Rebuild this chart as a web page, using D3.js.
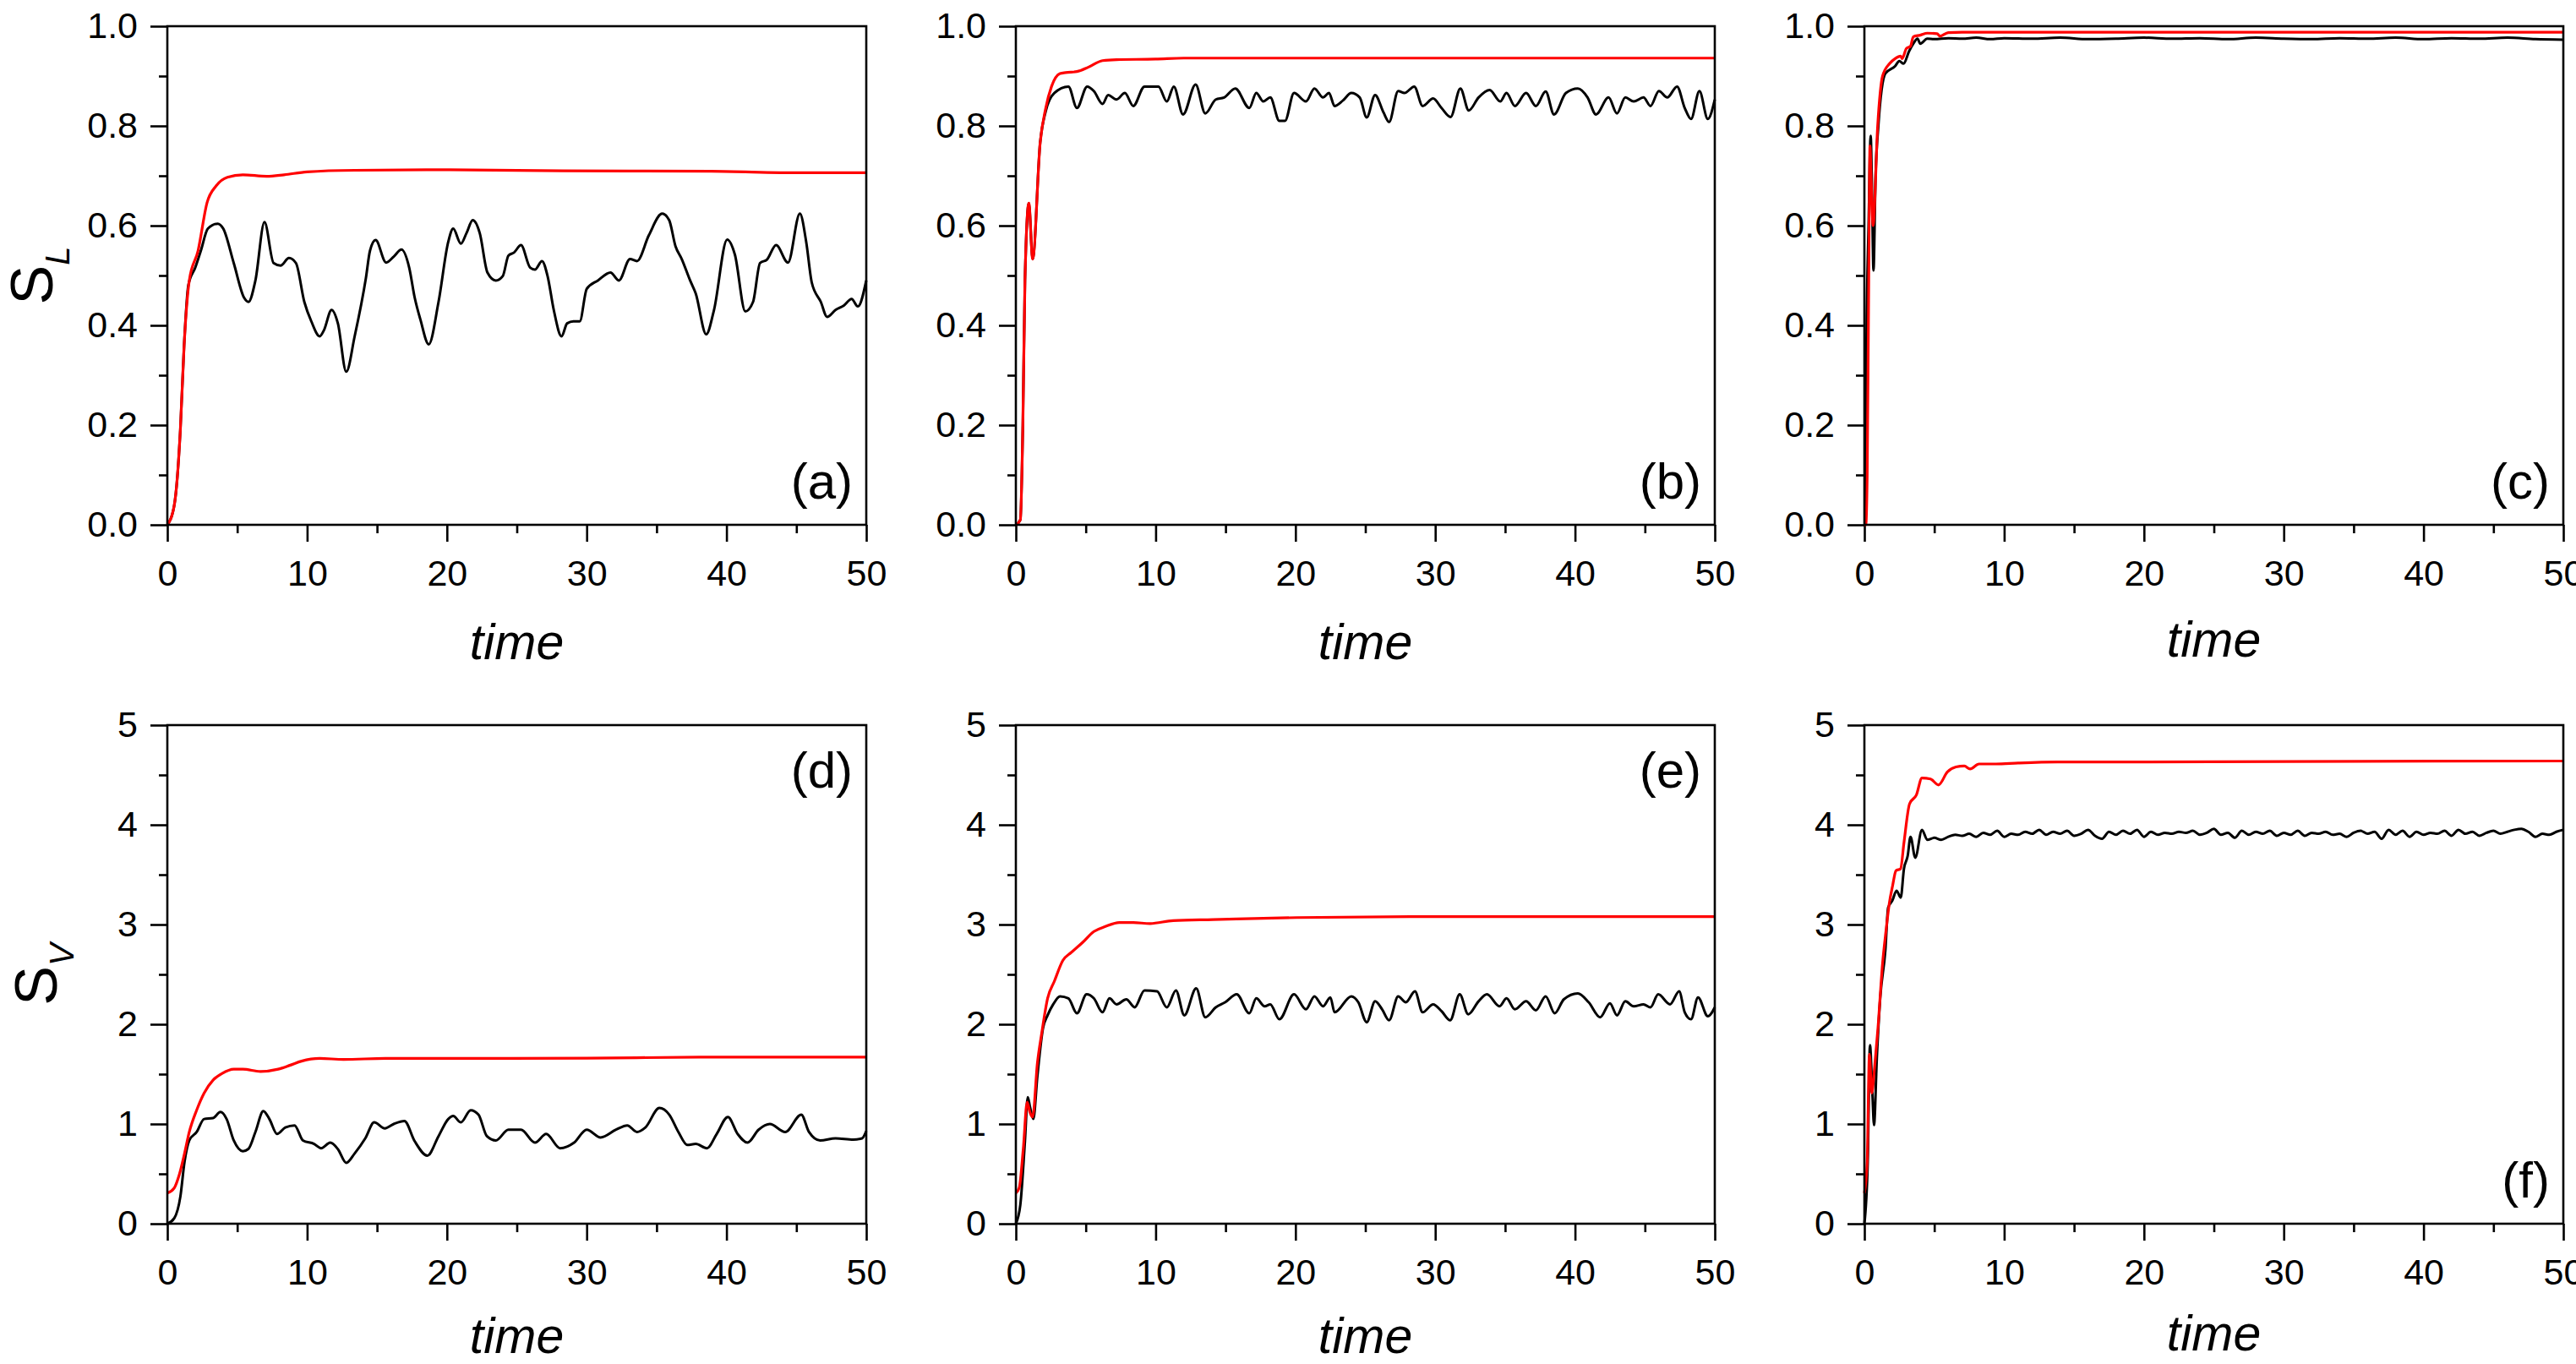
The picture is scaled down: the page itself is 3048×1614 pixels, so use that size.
<!DOCTYPE html>
<html>
<head>
<meta charset="utf-8">
<script src="https://cdn.jsdelivr.net/npm/d3@7"></script>
<style>
  body { margin: 0; background: #fff; }
  svg { display: block; }
  text { font-family: "Liberation Sans", Arial, sans-serif; fill: #000; }
</style>
</head>
<body>
<div id="chart"></div>
<script>
// tick values
var timeTicks = [0, 10, 20, 30, 40, 50];
var timeMinor = [5, 15, 25, 35, 45];
var slTicks = [0, 0.2, 0.4, 0.6, 0.8, 1.0];
var slMinor = [0.1, 0.3, 0.5, 0.7, 0.9];
var svTicks = [0, 1, 2, 3, 4, 5];
var svMinor = [0.5, 1.5, 2.5, 3.5, 4.5];
var panelNames = ["(a)", "(b)", "(c)", "(d)", "(e)", "(f)"];

// [time, value]
var aRed = [[0,0],[0.5,0.04],[0.93,0.19],[1.2,0.36],[1.57,0.49],[2.2,0.55],[2.84,0.646],[3.5,0.68],[4.3,0.697],[5.4,0.702],[7.1,0.699],[8.35,0.702],[10,0.708],[13.4,0.711],[20.2,0.712],[28.3,0.71],[38.9,0.709],[45.3,0.706],[50,0.706]];
var aBlack = [[0,0],[0.5,0.04],[0.93,0.19],[1.2,0.36],[1.5,0.48],[2.0,0.516],[2.4,0.55],[2.9,0.594],[3.6,0.604],[4.0,0.594],[4.75,0.525],[5.5,0.455],[5.8,0.447],[6.3,0.49],[6.95,0.607],[7.6,0.525],[8.1,0.52],[8.7,0.535],[9.2,0.525],[9.8,0.447],[10.3,0.408],[10.9,0.378],[11.2,0.39],[11.75,0.431],[12.2,0.404],[12.8,0.307],[13.4,0.378],[14.2,0.494],[14.5,0.55],[14.9,0.571],[15.65,0.526],[16.2,0.538],[16.75,0.552],[17.3,0.516],[17.7,0.455],[18.1,0.412],[18.7,0.362],[19.4,0.447],[20.1,0.568],[20.45,0.594],[21.0,0.564],[21.4,0.585],[21.85,0.611],[22.35,0.585],[22.9,0.506],[23.5,0.49],[24.0,0.499],[24.4,0.54],[24.8,0.546],[25.3,0.561],[25.95,0.516],[26.3,0.512],[26.8,0.529],[27.2,0.499],[27.65,0.43],[28.2,0.378],[28.6,0.404],[29.05,0.408],[29.5,0.408],[30.0,0.473],[30.8,0.49],[31.7,0.506],[32.3,0.49],[33.1,0.533],[33.6,0.529],[34.45,0.581],[35.4,0.624],[35.9,0.611],[36.35,0.559],[36.8,0.533],[37.4,0.49],[37.8,0.464],[38.55,0.382],[39.1,0.43],[40.05,0.572],[40.6,0.542],[41.35,0.428],[41.9,0.447],[42.4,0.525],[42.9,0.532],[43.55,0.561],[44.4,0.526],[45.25,0.624],[45.7,0.568],[46.1,0.486],[46.75,0.447],[47.2,0.417],[47.8,0.431],[48.4,0.44],[48.95,0.453],[49.4,0.438],[50,0.49]];

var bRed = [[0,0],[0.32,0.01],[0.5,0.2],[0.65,0.49],[0.93,0.645],[1.2,0.533],[1.74,0.767],[2.14,0.836],[2.55,0.879],[3.16,0.905],[3.56,0.907],[4.37,0.909],[5.2,0.918],[6.2,0.931],[7.2,0.933],[10,0.934],[12,0.936],[30,0.936],[50,0.936]];
var bBlack = [[0,0],[0.32,0.01],[0.5,0.2],[0.65,0.49],[0.93,0.645],[1.2,0.533],[1.74,0.767],[2.14,0.83],[2.75,0.866],[3.76,0.879],[4.37,0.836],[5.1,0.879],[5.58,0.87],[6.2,0.844],[6.6,0.862],[7.2,0.853],[7.8,0.866],[8.4,0.84],[9.2,0.879],[10.2,0.879],[10.8,0.849],[11.3,0.879],[11.96,0.823],[12.86,0.883],[13.55,0.825],[14.3,0.853],[14.9,0.857],[15.7,0.875],[16.7,0.836],[17.2,0.866],[17.7,0.849],[18.2,0.857],[18.85,0.81],[19.25,0.81],[19.9,0.866],[20.75,0.849],[21.36,0.875],[21.97,0.857],[22.4,0.866],[22.8,0.84],[23.4,0.851],[24.0,0.866],[24.6,0.857],[25.1,0.817],[25.7,0.862],[26.3,0.827],[26.7,0.808],[27.35,0.87],[27.8,0.866],[28.5,0.879],[29.1,0.84],[29.85,0.855],[30.45,0.836],[31.1,0.818],[31.8,0.875],[32.4,0.831],[33.1,0.857],[33.9,0.872],[34.65,0.849],[35.1,0.866],[35.7,0.84],[36.5,0.866],[37.2,0.84],[37.9,0.869],[38.5,0.823],[39.35,0.866],[40.2,0.875],[40.9,0.857],[41.5,0.823],[42.4,0.857],[43.0,0.825],[43.6,0.857],[44.2,0.849],[44.9,0.857],[45.4,0.84],[46.0,0.87],[46.6,0.857],[47.3,0.879],[47.85,0.836],[48.3,0.814],[48.9,0.87],[49.5,0.814],[50,0.853]];

var cRed = [[0,0],[0.1,0.0],[0.2,0.1],[0.3,0.45],[0.4,0.76],[0.5,0.68],[0.62,0.6],[0.95,0.8],[1.3,0.9],[1.8,0.925],[2.2,0.935],[2.6,0.94],[2.7,0.935],[3.0,0.955],[3.3,0.96],[3.5,0.979],[4.0,0.982],[4.5,0.986],[5.2,0.985],[5.4,0.98],[6,0.987],[7,0.988],[20,0.988],[35,0.988],[50,0.988]];
var cBlack = [[0,0],[0.05,0.0],[0.15,0.37],[0.3,0.6],[0.45,0.78],[0.55,0.66],[0.65,0.51],[0.8,0.7],[1.0,0.8],[1.5,0.905],[2.2,0.92],[2.5,0.93],[2.8,0.925],[3.2,0.95],[3.5,0.965],[3.8,0.975],[4.0,0.965],[4.5,0.975],[5,0.974],[6,0.976],[7,0.975],[8,0.977],[9,0.974],[10,0.976],[12,0.975],[14,0.977],[16,0.974],[18,0.975],[20,0.977],[22,0.975],[24,0.976],[26,0.974],[28,0.977],[30,0.975],[32,0.974],[34,0.976],[36,0.975],[38,0.977],[40,0.974],[42,0.976],[44,0.975],[46,0.977],[48,0.974],[50,0.973]];

var dRed = [[0,0.307],[0.5,0.36],[0.85,0.49],[1.23,0.705],[1.57,0.92],[2.1,1.14],[2.63,1.31],[3.27,1.44],[3.9,1.505],[4.75,1.55],[5.4,1.55],[6.66,1.527],[7.93,1.55],[8.8,1.59],[9.6,1.63],[10.9,1.657],[12.6,1.648],[15.6,1.657],[21.1,1.657],[30,1.66],[38.1,1.67],[50,1.67]];
var dBlack = [[0,0],[0.5,0.056],[0.93,0.27],[1.23,0.62],[1.57,0.835],[2.1,0.92],[2.63,1.05],[3.27,1.06],[3.8,1.12],[4.24,1.05],[4.75,0.835],[5.4,0.727],[5.8,0.75],[6.3,0.92],[6.87,1.13],[7.3,1.05],[7.85,0.9],[8.44,0.965],[9.1,0.986],[9.7,0.835],[10.5,0.8],[11.0,0.757],[11.66,0.813],[12.2,0.748],[12.8,0.61],[13.4,0.705],[14.16,0.856],[14.8,1.016],[15.56,0.956],[16.2,1.0],[16.96,1.03],[17.7,0.826],[18.6,0.683],[19.4,0.878],[20.1,1.05],[20.45,1.08],[21.0,1.016],[21.7,1.138],[22.26,1.094],[22.86,0.878],[23.5,0.835],[24.4,0.943],[25.3,0.943],[26.3,0.813],[27.1,0.9],[28.1,0.757],[29.1,0.813],[30.0,0.943],[31.0,0.865],[32.1,0.943],[32.9,0.986],[33.6,0.92],[34.2,0.965],[35.2,1.16],[35.9,1.094],[36.56,0.92],[37.2,0.79],[37.8,0.8],[38.6,0.757],[39.3,0.9],[40.1,1.07],[40.8,0.9],[41.5,0.813],[42.3,0.943],[43.1,1.0],[44.2,0.92],[45.35,1.094],[45.9,0.92],[46.7,0.835],[47.8,0.856],[49.07,0.843],[49.7,0.856],[50,0.93]];

var eRed = [[0,0.307],[0.24,0.36],[0.53,0.75],[0.81,1.22],[1.0,1.12],[1.2,1.07],[1.54,1.61],[1.86,1.92],[2.27,2.26],[2.75,2.43],[3.36,2.64],[3.96,2.72],[4.77,2.82],[5.58,2.93],[6.4,2.98],[7.4,3.02],[8.4,3.02],[9.6,3.01],[11.25,3.04],[14.1,3.05],[20.1,3.07],[28.2,3.08],[50,3.08]];
var eBlack = [[0,0],[0.32,0.19],[0.65,0.83],[0.85,1.27],[1.0,1.18],[1.25,1.05],[1.54,1.48],[1.94,1.96],[2.27,2.09],[2.67,2.2],[3.16,2.28],[3.76,2.26],[4.37,2.11],[5.06,2.3],[5.58,2.26],[6.2,2.12],[6.7,2.26],[7.2,2.2],[7.9,2.25],[8.5,2.17],[9.2,2.34],[10.1,2.33],[10.8,2.17],[11.45,2.34],[12.05,2.09],[12.9,2.36],[13.55,2.07],[14.3,2.17],[14.97,2.22],[15.8,2.3],[16.7,2.11],[17.2,2.26],[17.8,2.18],[18.2,2.2],[18.85,2.05],[19.9,2.3],[20.75,2.15],[21.36,2.28],[21.97,2.18],[22.5,2.27],[22.8,2.12],[24.0,2.28],[24.5,2.22],[25.1,2.02],[25.7,2.23],[26.2,2.15],[26.7,2.04],[27.35,2.28],[27.9,2.22],[28.55,2.33],[29.1,2.12],[29.85,2.2],[30.46,2.13],[31.07,2.04],[31.75,2.3],[32.36,2.1],[33.1,2.23],[33.7,2.3],[34.6,2.18],[35.1,2.26],[35.7,2.15],[36.5,2.23],[37.2,2.14],[37.9,2.28],[38.55,2.11],[39.2,2.25],[40.2,2.31],[40.98,2.22],[41.8,2.07],[42.5,2.21],[43.0,2.09],[43.6,2.23],[44.2,2.18],[44.9,2.2],[45.4,2.17],[45.95,2.3],[46.8,2.2],[47.45,2.33],[47.85,2.12],[48.3,2.05],[48.8,2.27],[49.5,2.08],[50,2.17]];

var fRed = [[0,0.307],[0.2,0.62],[0.36,1.7],[0.53,1.31],[0.73,1.57],[0.97,1.96],[1.3,2.61],[1.54,2.93],[1.78,3.21],[2.02,3.39],[2.26,3.54],[2.59,3.56],[2.83,3.82],[3.23,4.21],[3.72,4.3],[4.12,4.47],[4.73,4.46],[5.3,4.4],[5.94,4.53],[6.55,4.58],[7.15,4.59],[7.56,4.56],[8.2,4.61],[9.4,4.61],[11.0,4.62],[13.8,4.63],[17.9,4.63],[30,4.635],[50,4.64]];
var fBlack = [[0,0],[0.24,0.62],[0.4,1.79],[0.57,1.31],[0.69,0.99],[0.89,1.66],[1.13,2.26],[1.5,2.74],[1.7,3.17],[2.0,3.24],[2.3,3.34],[2.6,3.27],[2.83,3.56],[3.1,3.69],[3.3,3.88],[3.64,3.67],[4.12,3.95],[4.5,3.85],[5.0,3.87],[5.5,3.85],[6.0,3.88],[6.5,3.9],[7.0,3.89],[7.5,3.91],[8.0,3.88],[8.5,3.92],[9.0,3.90],[9.5,3.94],[10,3.88],[10.5,3.91],[11,3.90],[11.5,3.93],[12,3.91],[12.5,3.95],[13,3.90],[13.5,3.93],[14,3.91],[14.5,3.94],[15,3.89],[15.5,3.91],[16,3.95],[16.5,3.89],[17,3.86],[17.5,3.93],[18,3.90],[18.5,3.94],[19,3.91],[19.5,3.95],[20,3.88],[20.5,3.93],[21,3.90],[21.5,3.92],[22,3.91],[22.5,3.93],[23,3.92],[23.5,3.94],[24,3.90],[24.5,3.92],[25,3.96],[25.5,3.90],[26,3.92],[26.5,3.87],[27,3.94],[27.5,3.90],[28,3.93],[28.5,3.91],[29,3.94],[29.5,3.89],[30,3.92],[30.5,3.90],[31,3.94],[31.5,3.89],[32,3.92],[32.5,3.91],[33,3.93],[33.5,3.90],[34,3.91],[34.5,3.88],[35,3.92],[35.5,3.94],[36,3.91],[36.5,3.93],[37,3.86],[37.5,3.95],[38,3.90],[38.5,3.94],[39,3.88],[39.5,3.93],[40,3.90],[40.5,3.92],[41,3.91],[41.5,3.94],[42,3.89],[42.5,3.95],[43,3.91],[43.5,3.93],[44,3.89],[44.5,3.92],[45,3.94],[45.5,3.91],[46,3.93],[46.5,3.95],[47,3.96],[47.5,3.93],[48,3.88],[48.5,3.91],[49,3.90],[49.5,3.93],[50,3.95]];

var W = 3048, H = 1614;
var colX = [198, 1202, 2206];
var rowY = [31, 858];
var pw = 827, ph = 590;

var svg = d3.select("#chart").append("svg")
    .attr("width", W)
    .attr("height", H);

var panels = [
    {name: panelNames[0], red: aRed, black: aBlack, col: 0, row: 0},
    {name: panelNames[1], red: bRed, black: bBlack, col: 1, row: 0},
    {name: panelNames[2], red: cRed, black: cBlack, col: 2, row: 0},
    {name: panelNames[3], red: dRed, black: dBlack, col: 0, row: 1},
    {name: panelNames[4], red: eRed, black: eBlack, col: 1, row: 1},
    {name: panelNames[5], red: fRed, black: fBlack, col: 2, row: 1}
];

panels.forEach(drawPanel);

function drawPanel(p) {
    var top = p.row === 0;
    var g = svg.append("g")
        .attr("transform", "translate(" + colX[p.col] + "," + rowY[p.row] + ")");

    var x = d3.scaleLinear().domain([0, 50]).range([0, pw]);
    var y = d3.scaleLinear().domain(top ? [0, 1] : [0, 5]).range([ph, 0]);

    // minor ticks
    g.append("g")
        .attr("class", "axis")
        .attr("transform", "translate(0," + ph + ")")
        .call(d3.axisBottom(x).tickValues(timeMinor).tickSize(10).tickFormat(""));
    g.append("g")
        .attr("class", "axis")
        .call(d3.axisLeft(y).tickValues(top ? slMinor : svMinor).tickSize(10).tickFormat(""));

    // major ticks
    g.append("g")
        .attr("class", "axis xmajor")
        .attr("transform", "translate(0," + ph + ")")
        .call(d3.axisBottom(x).tickValues(timeTicks).tickSize(20).tickPadding(21).tickFormat(d3.format("d")));
    g.append("g")
        .attr("class", "axis ymajor")
        .call(d3.axisLeft(y).tickValues(top ? slTicks : svTicks).tickSize(20).tickPadding(15)
            .tickFormat(top ? d3.format(".1f") : d3.format("d")));

    g.selectAll(".axis path.domain").remove();
    g.selectAll(".axis line").attr("stroke", "#000").attr("stroke-width", 2.6);
    g.selectAll(".axis text")
        .style("font-family", "'Liberation Sans', Arial, sans-serif")
        .style("font-size", "43px")
        .attr("fill", "#000");

    var line = d3.line()
        .x(d => x(d[0]))
        .y(d => y(d[1]))
        .curve(d3.curveMonotoneX);

    g.append("path")
        .datum(p.black)
        .attr("fill", "none")
        .attr("stroke", "#000")
        .attr("stroke-width", 3)
        .attr("stroke-linejoin", "round")
        .attr("d", line);

    g.append("path")
        .datum(p.red)
        .attr("fill", "none")
        .attr("stroke", "#ff0000")
        .attr("stroke-width", 3.2)
        .attr("stroke-linejoin", "round")
        .attr("d", line);

    // frame
    g.append("rect")
        .attr("width", pw)
        .attr("height", ph)
        .attr("fill", "none")
        .attr("stroke", "#000")
        .attr("stroke-width", 2.6);

    // panel letter
    var labelBottom = (p.name === "(d)" || p.name === "(e)") ? false : true;
    g.append("text")
        .attr("x", pw - 16)
        .attr("y", labelBottom ? ph - 31 : 74)
        .attr("text-anchor", "end")
        .style("font-size", "60px")
        .text(p.name);

    // x title
    var titleY = top ? 159 : 153;
    if (p.col === 2) titleY -= 3;
    g.append("text")
        .attr("x", pw / 2)
        .attr("y", ph + titleY)
        .attr("text-anchor", "middle")
        .style("font-size", "59px")
        .style("font-style", "italic")
        .text("time");

    // y title only on first column
    if (p.col === 0) {
        var t = g.append("text")
            .attr("transform", "translate(" + (top ? -136 : -131) + "," + (ph / 2) + ") rotate(-90)")
            .attr("text-anchor", "middle")
            .style("font-size", "70px");
        t.append("tspan").text("S");
        t.append("tspan")
            .attr("dy", 20)
            .style("font-size", "40px")
            .style("font-style", "italic")
            .text(top ? "L" : "V");
    }
}
</script>
</body>
</html>
